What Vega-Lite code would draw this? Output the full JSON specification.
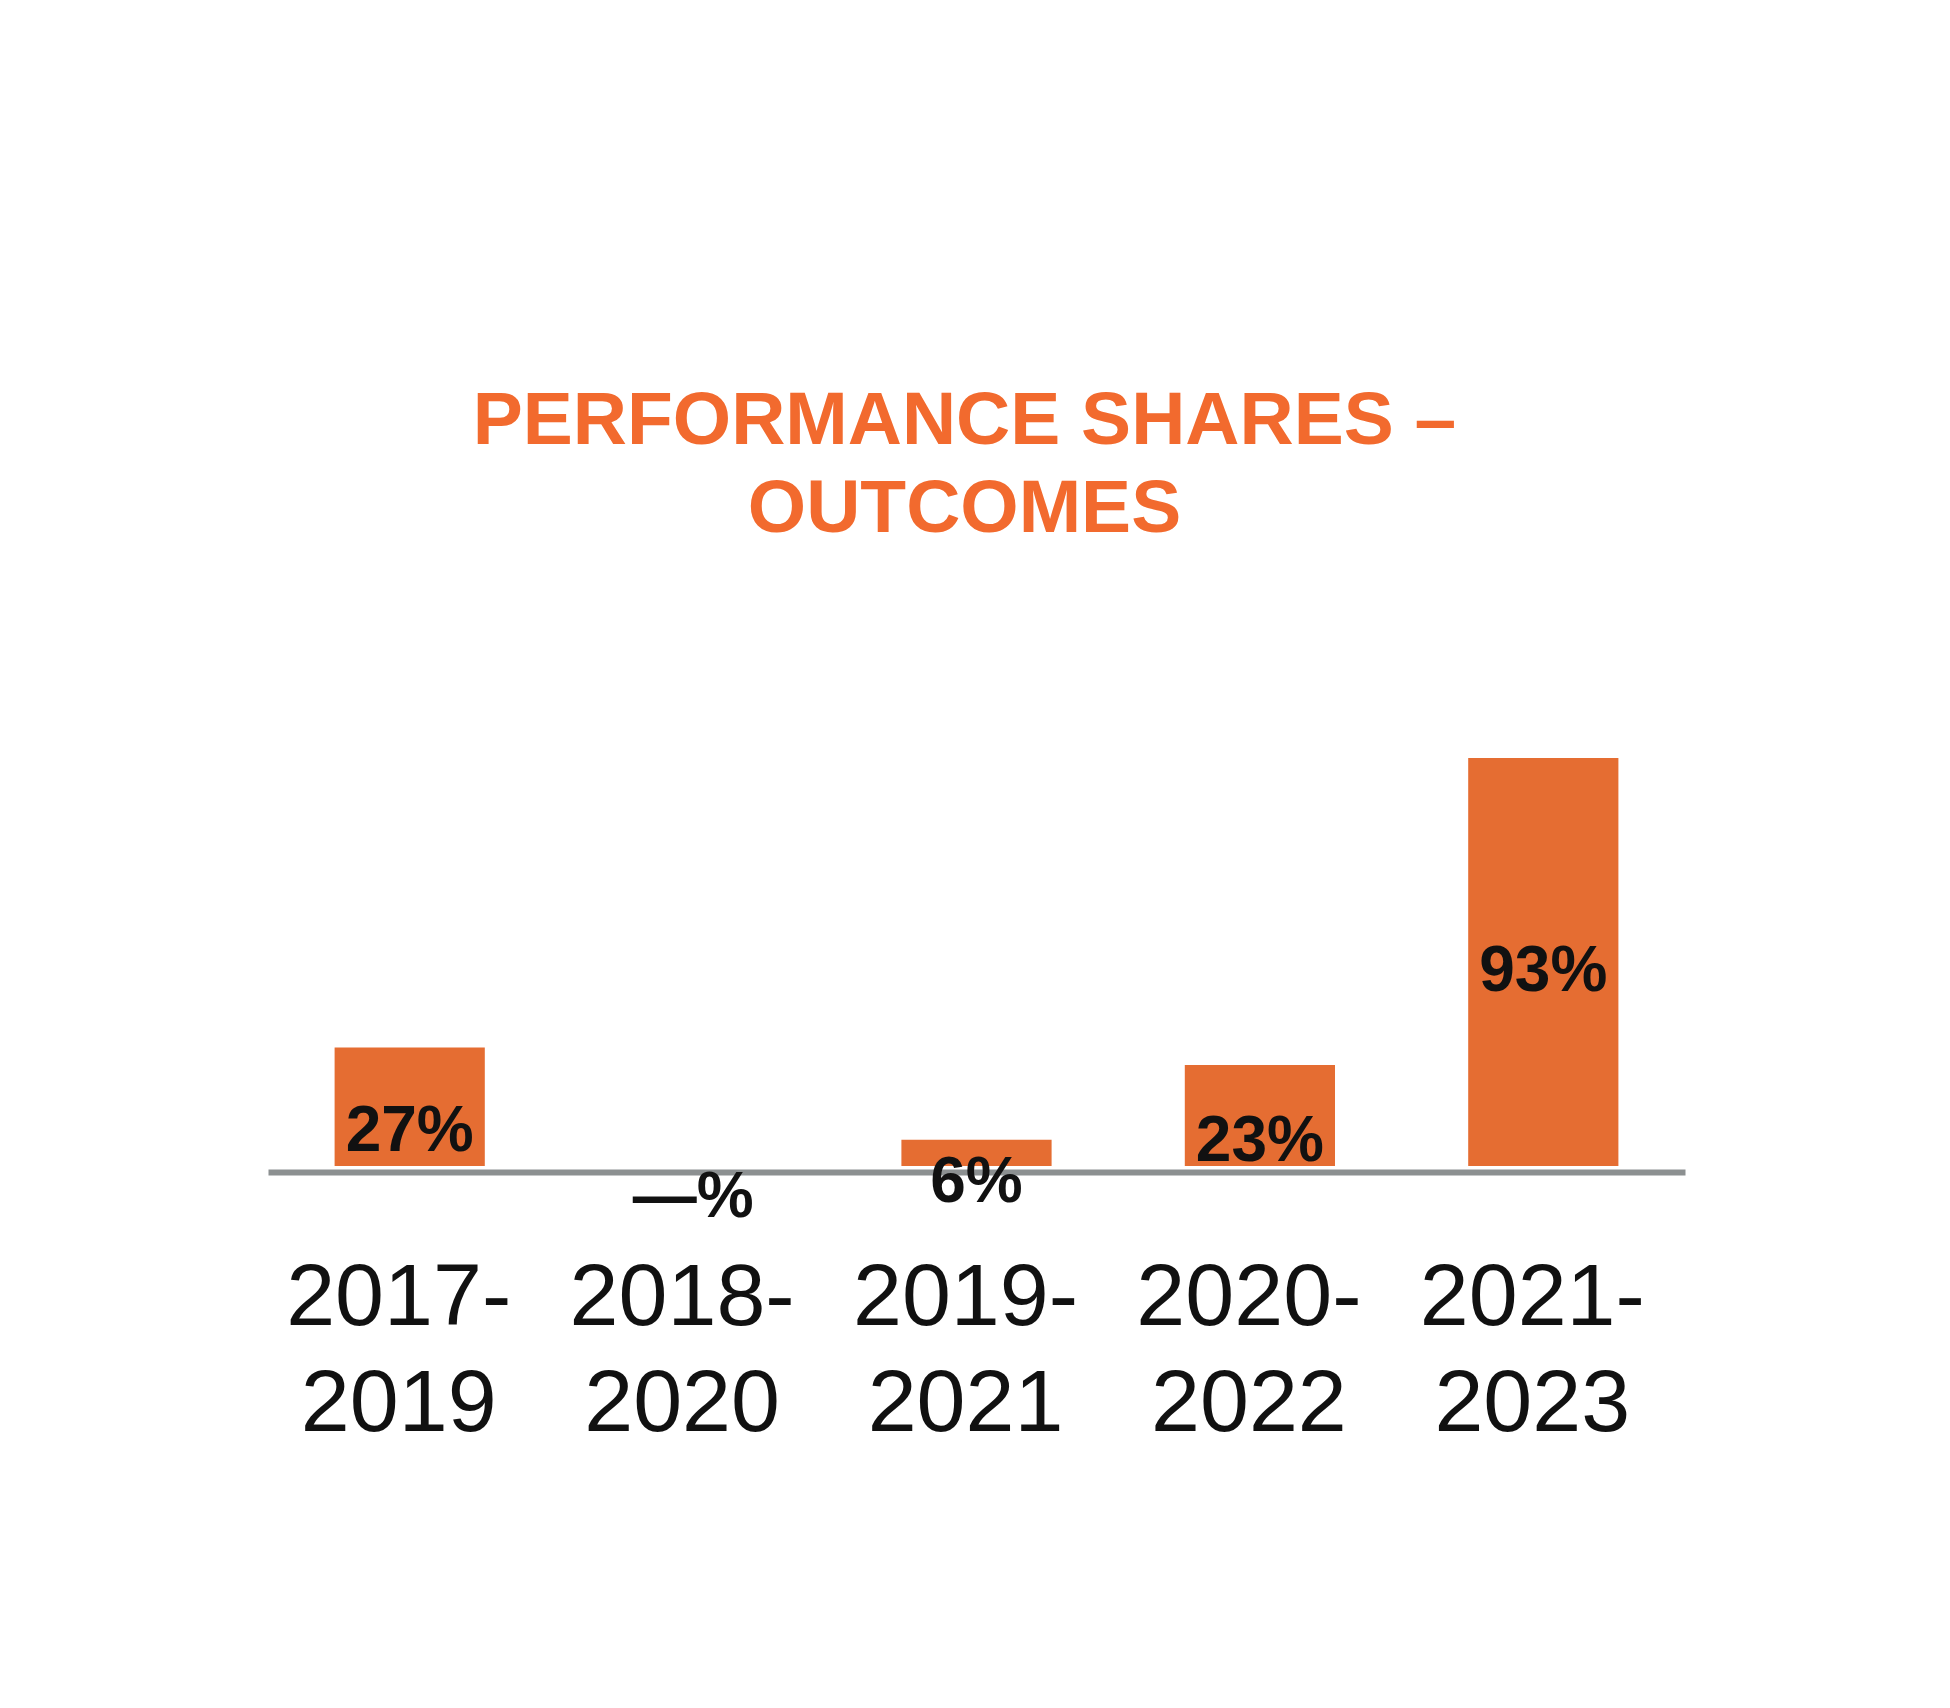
{
  "$schema": "https://vega.github.io/schema/vega-lite/v6.json",
  "autosize": "none",
  "width": 1417,
  "height": 408,
  "padding": {"left": 268, "top": 758, "right": 265, "bottom": 542},
  "background": "white",
  "title": {
    "text": ["PERFORMANCE SHARES –", "OUTCOMES"],
    "anchor": "middle",
    "font": "Liberation Sans",
    "fontSize": 75,
    "fontWeight": "bold",
    "color": "#F26A2E",
    "lineHeight": 88,
    "offset": 210,
    "dx": -12
  },
  "data": {
    "values": [
      {"period": "2017-2019", "share": 27, "label": "27%"},
      {"period": "2018-2020", "share": 0, "label": "—%"},
      {"period": "2019-2021", "share": 6, "label": "6%"},
      {"period": "2020-2022", "share": 23, "label": "23%"},
      {"period": "2021-2023", "share": 93, "label": "93%"}
    ]
  },
  "encoding": {
    "x": {
      "field": "period",
      "type": "nominal",
      "sort": null,
      "scale": {"paddingInner": 0.47, "paddingOuter": 0.235},
      "axis": {
        "title": null,
        "domainColor": "#8C9091",
        "domainWidth": 6,
        "offset": 6,
        "ticks": false,
        "tickSize": 0,
        "labelPadding": 82,
        "labelOffset": -11,
        "labelFont": "Liberation Sans",
        "labelFontSize": 88,
        "labelColor": "#111111",
        "labelAngle": 0,
        "labelLineHeight": 106,
        "labelLimit": 0,
        "labelOverlap": false,
        "labelBound": false,
        "labelExpr": "[slice(datum.value,0,5), slice(datum.value,5)]"
      }
    }
  },
  "layer": [
    {
      "mark": {"type": "bar", "color": "#E56D32"},
      "encoding": {
        "y": {
          "field": "share",
          "type": "quantitative",
          "scale": {"domain": [0, 93], "nice": false, "zero": true},
          "axis": null
        }
      }
    },
    {
      "mark": {
        "type": "text",
        "font": "Liberation Sans",
        "fontSize": 64,
        "fontWeight": "bold",
        "color": "#111111",
        "baseline": "middle",
        "align": "center"
      },
      "encoding": {
        "y": {
          "field": "share",
          "type": "quantitative",
          "scale": {"domain": [13, 181], "nice": false, "zero": false},
          "axis": null
        },
        "text": {"field": "label"}
      }
    }
  ],
  "resolve": {"scale": {"y": "independent"}},
  "config": {"view": {"stroke": null}}
}
